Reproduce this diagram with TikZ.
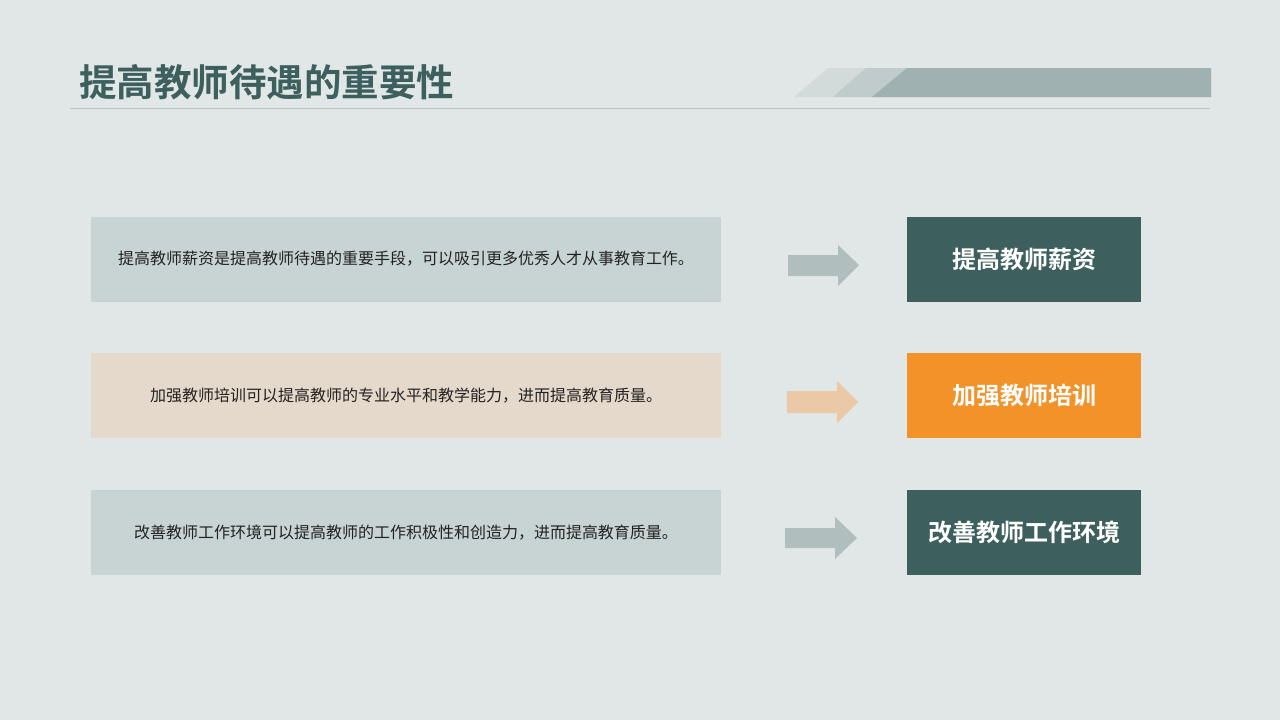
\documentclass[tikz,border=0pt]{standalone}
\usepackage{fontspec}
\newfontfamily\cjk{Noto Sans CJK SC}
\newfontfamily\cjkb{Noto Sans CJK SC Bold}
\definecolor{bg}{HTML}{E1E7E7}
\definecolor{teal}{HTML}{3D605F}
\definecolor{orng}{HTML}{F39229}
\definecolor{lgray}{HTML}{C8D3D3}
\definecolor{lpeach}{HTML}{E5D9CB}
\definecolor{agray}{HTML}{B0BFBD}
\definecolor{apeach}{HTML}{EBC9A6}
\definecolor{band1}{HTML}{D3DBDA}
\definecolor{band2}{HTML}{BFCCCB}
\definecolor{band3}{HTML}{9FB1B0}
\definecolor{rule}{HTML}{B3C4C1}
\definecolor{txt}{HTML}{222222}
\tikzset{
  descbox/.style={minimum width=630pt, minimum height=85pt, inner sep=0pt, font=\cjk\fontsize{16}{18}\selectfont, text=txt},
  keybox/.style={minimum width=234pt, minimum height=85pt, inner sep=0pt, font=\cjkb\fontsize{24}{28}\selectfont, text=white},
  arr/.style={draw=none}
}
\begin{document}
\begin{tikzpicture}[x=1pt,y=-1pt]
\useasboundingbox (0,0) rectangle (1280,720);
\fill[bg] (0,0) rectangle (1280,720);
% title
\node[anchor=west, inner sep=0pt, text=teal, font=\cjkb\fontsize{37.5}{40}\selectfont] (title) at (79,82) {提高教师待遇的重要性};
\draw[rule, line width=1pt] (70,108) -- (1210,108);
% band
\fill[band1] (794,97) -- (828,68) -- (1211,68) -- (1211,97) -- cycle;
\fill[band2] (833,97) -- (866,68) -- (1211,68) -- (1211,97) -- cycle;
\fill[band3] (872,97) -- (907,68) -- (1211,68) -- (1211,97) -- cycle;
% rows
\node[descbox, fill=lgray] (d1) at (406,259) {提高教师薪资是提高教师待遇的重要手段，可以吸引更多优秀人才从事教育工作。};
\node[descbox, fill=lpeach] (d2) at (406,395.5) {加强教师培训可以提高教师的专业水平和教学能力，进而提高教育质量。};
\node[descbox, fill=lgray] (d3) at (406,532.5) {改善教师工作环境可以提高教师的工作积极性和创造力，进而提高教育质量。};
\node[keybox, fill=teal] (k1) at (1024,259) {提高教师薪资};
\node[keybox, fill=orng] (k2) at (1024,395.5) {加强教师培训};
\node[keybox, fill=teal] (k3) at (1024,532.5) {改善教师工作环境};
% arrows
\fill[agray] (788,255) -- (838,255) -- (838,245) -- (859,265) -- (838,286) -- (838,276) -- (788,276) -- cycle;
\fill[apeach] (787,391) -- (837,391) -- (837,381) -- (858,402) -- (837,423) -- (837,413) -- (787,413) -- cycle;
\fill[agray] (785,528) -- (835,528) -- (835,517) -- (857,538) -- (835,559) -- (835,548) -- (785,548) -- cycle;
\end{tikzpicture}
\end{document}
